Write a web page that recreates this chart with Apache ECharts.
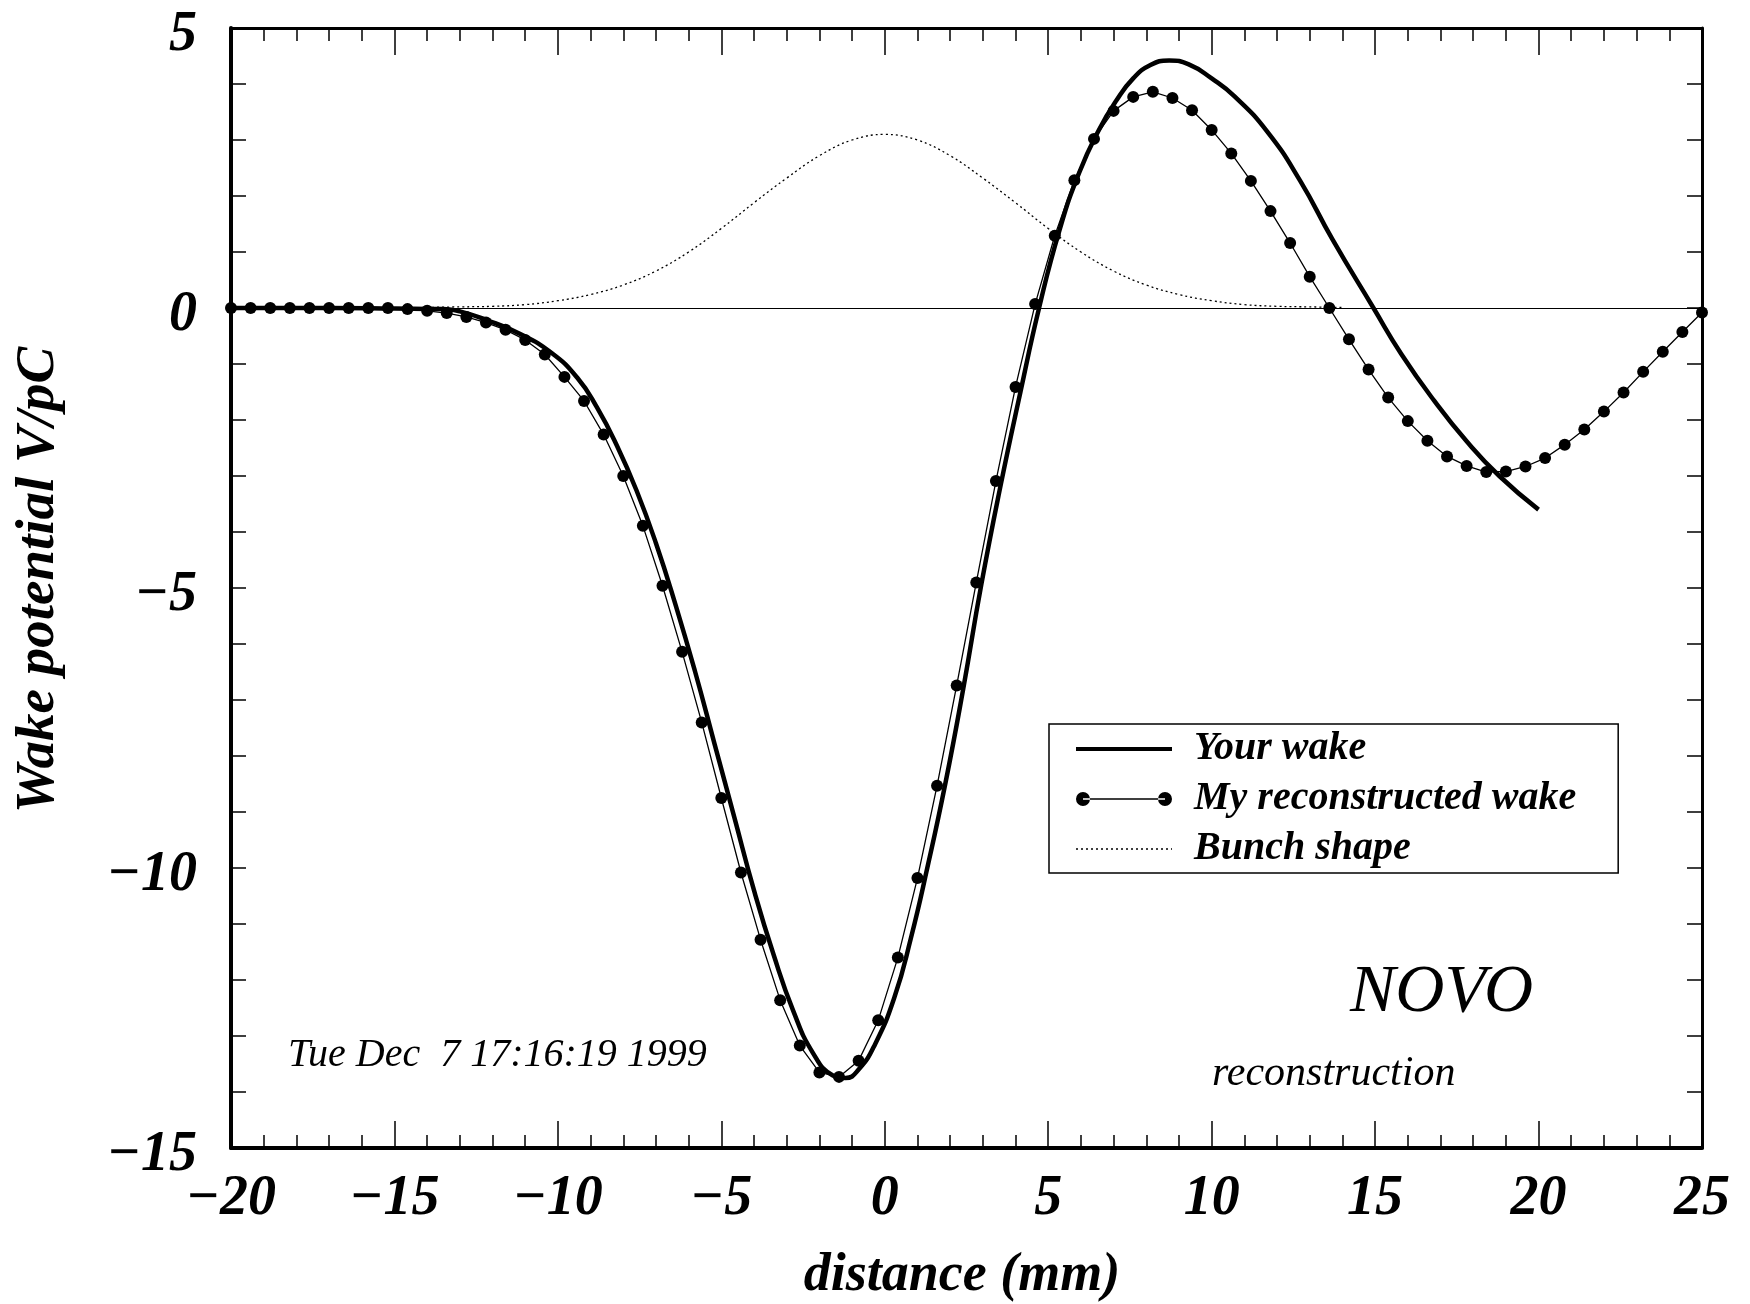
<!DOCTYPE html>
<html><head><meta charset="utf-8">
<script src="https://cdn.jsdelivr.net/npm/echarts@6/dist/echarts.min.js"></script>
<style>html,body{margin:0;padding:0;background:#fff}#c{width:1750px;height:1304px}</style>
</head><body><div id="c"></div>
<script>
// ---- data ----
const wakeX = [-20, -17, -15, -13.5, -13, -12.2, -11.2, -10.2, -9.4, -8.8, -8.2, -7.6, -7.0, -6.4, -5.8, -5.2, -4.6, -4.0, -3.4, -2.8, -2.2, -1.6, -1.2, -0.8, -0.3, 0.3, 0.8, 1.3, 1.85, 2.4, 2.95, 3.55, 4.15, 4.72, 5.35, 5.95, 6.55, 7.1, 7.6, 8.1, 8.7, 9.3, 10.0, 10.7, 11.7, 12.7, 13.7, 14.95, 15.8, 16.8, 17.8, 18.8, 20.0];
const wakeY = [0, 0, -0.01, -0.02, -0.06, -0.21, -0.45, -0.8, -1.25, -1.78, -2.45, -3.25, -4.2, -5.3, -6.5, -7.8, -9.1, -10.4, -11.55, -12.55, -13.3, -13.7, -13.75, -13.6, -13.15, -12.3, -11.25, -10.0, -8.5, -6.8, -4.95, -3.15, -1.5, 0.0, 1.4, 2.42, 3.18, 3.72, 4.1, 4.33, 4.42, 4.35, 4.1, 3.78, 3.15, 2.28, 1.22, 0.0, -0.82, -1.65, -2.38, -3.0, -3.6];

const recX = [-20, -19.4, -18.8, -18.2, -17.6, -17, -16.4, -15.8, -15.2, -14.6, -14, -13.4, -12.8, -12.2, -11.6, -11, -10.4, -9.8, -9.2, -8.6, -8, -7.4, -6.8, -6.2, -5.6, -5, -4.4, -3.8, -3.2, -2.6, -2, -1.4, -0.8, -0.2, 0.4, 1, 1.6, 2.2, 2.8, 3.4, 4, 4.6, 5.2, 5.8, 6.4, 7, 7.6, 8.2, 8.8, 9.4, 10, 10.6, 11.2, 11.8, 12.4, 13, 13.6, 14.2, 14.8, 15.4, 16, 16.6, 17.2, 17.8, 18.4, 19, 19.6, 20.2, 20.8, 21.4, 22, 22.6, 23.2, 23.8, 24.4, 25];
const recY = [0, 0, 0, 0, 0, 0, 0, 0, 0, -0.02, -0.05, -0.09, -0.16, -0.26, -0.39, -0.57, -0.83, -1.23, -1.66, -2.26, -3.0, -3.89, -4.96, -6.14, -7.40, -8.75, -10.08, -11.28, -12.36, -13.17, -13.65, -13.73, -13.44, -12.72, -11.6, -10.18, -8.53, -6.74, -4.90, -3.09, -1.41, 0.07, 1.29, 2.28, 3.02, 3.52, 3.77, 3.86, 3.75, 3.53, 3.18, 2.76, 2.27, 1.73, 1.16, 0.56, 0, -0.56, -1.10, -1.60, -2.02, -2.37, -2.65, -2.82, -2.93, -2.92, -2.83, -2.68, -2.44, -2.17, -1.85, -1.51, -1.14, -0.78, -0.43, -0.08];

const bunchX = [-14, -13, -12, -11, -10, -9, -8, -7, -6, -5, -4, -3, -2, -1, 0, 1, 2, 3, 4, 5, 6, 7, 8, 9, 10, 11, 12, 13, 14];
const bunchY = [0.01, 0.02, 0.03, 0.06, 0.13, 0.24, 0.41, 0.66, 1.0, 1.42, 1.88, 2.32, 2.72, 3.0, 3.1, 3.0, 2.72, 2.32, 1.88, 1.42, 1.0, 0.66, 0.41, 0.24, 0.13, 0.06, 0.03, 0.02, 0.01];

const xTickValues = [-20, -15, -10, -5, 0, 5, 10, 15, 20, 25];
const xTickLabels = ['\u221220', '\u221215', '\u221210', '\u22125', '0', '5', '10', '15', '20', '25'];
const yTickValues = [-15, -10, -5, 0, 5];
const yTickLabels = ['\u221215', '\u221210', '\u22125', '0', '5'];

const seriesNames = ['Your wake', 'My reconstructed wake', 'Bunch shape'];
const xTitle = 'distance (mm)';
const yTitle = 'Wake potential V/pC';
const dateText = 'Tue Dec  7 17:16:19 1999';
const novoText = 'NOVO';
const recoText = 'reconstruction';

// ---- build ----
const FONT = '"Liberation Serif", "Times New Roman", serif';
const zip = (xs, ys) => xs.map((x, i) => [x, ys[i]]);
const lab = (vals, labels) => v => { const i = vals.indexOf(v); return i >= 0 ? labels[i] : ''; };

const chart = echarts.init(document.getElementById('c'), null, { renderer: 'canvas' });

const xBase = {
  type: 'value', min: -20, max: 25, interval: 5,
  splitLine: { show: false },
  axisLine: { show: true, onZero: false, lineStyle: { color: '#000', width: 3 } },
  axisTick: { show: true, inside: true, length: 27, lineStyle: { color: '#000', width: 1.5 } },
  minorTick: { show: true, splitNumber: 5, length: 13, lineStyle: { color: '#000', width: 1.5 } }
};
const yBase = {
  type: 'value', min: -15, max: 5, interval: 5,
  splitLine: { show: false },
  axisLine: { show: true, onZero: false, lineStyle: { color: '#000', width: 3 } },
  axisTick: { show: true, inside: true, length: 15, lineStyle: { color: '#000', width: 1.5 } },
  minorTick: { show: true, splitNumber: 5, length: 15, lineStyle: { color: '#000', width: 1.5 } }
};

const recIcon = 'path://M0,7 A7,7 0 1,0 14,7 A7,7 0 1,0 0,7 Z M7,6.2 L89,6.2 L89,7.8 L7,7.8 Z M82,7 A7,7 0 1,0 96,7 A7,7 0 1,0 82,7 Z';
const labelFont = { fontFamily: FONT, fontStyle: 'italic', fontWeight: 'bold', fontSize: 56, color: '#000' };

chart.setOption({
  animation: false,
  backgroundColor: '#fff',
  grid: { left: 231, right: 48, top: 28, bottom: 156, containLabel: false },
  xAxis: [
    Object.assign({}, xBase, {
      position: 'bottom',
      axisLine: { show: true, onZero: false, lineStyle: { color: '#000', width: 4 } },
      axisLabel: Object.assign({ show: true, margin: 24, formatter: lab(xTickValues, xTickLabels) }, labelFont)
    }),
    Object.assign({}, xBase, { position: 'top', axisLabel: { show: false } })
  ],
  yAxis: [
    Object.assign({}, yBase, {
      position: 'left',
      axisLine: { show: true, onZero: false, lineStyle: { color: '#000', width: 4 } },
      axisLabel: Object.assign({ show: true, margin: 34,
        formatter: v => '{a|' + lab(yTickValues, yTickLabels)(v) + '}',
        rich: { a: Object.assign({ padding: [16, 0, 0, 0] }, labelFont) } }, labelFont)
    }),
    Object.assign({}, yBase, { position: 'right', axisLabel: { show: false } })
  ],
  legend: {
    orient: 'vertical', left: 1049, top: 724,
    padding: [5, 42, 4, 25],
    borderColor: '#000', borderWidth: 1.5,
    itemWidth: 96, itemHeight: 14, itemGap: 10,
    selectedMode: false,
    textStyle: { fontFamily: FONT, fontStyle: 'italic', fontWeight: 'bold', fontSize: 40, color: '#000', lineHeight: 40, padding: [0, 0, 0, 17] },
    data: [
      { name: seriesNames[0], itemStyle: { opacity: 0 }, lineStyle: { width: 4, color: '#000' } },
      { name: seriesNames[1], icon: recIcon, itemStyle: { color: '#000', borderWidth: 0 } },
      { name: seriesNames[2], itemStyle: { opacity: 0 }, lineStyle: { width: 1.3, color: '#000', type: [2, 3] } }
    ]
  },
  series: [
    {
      name: seriesNames[2], type: 'line', data: zip(bunchX, bunchY),
      xAxisIndex: 0, yAxisIndex: 0, smooth: 0.4, symbol: 'none',
      color: '#000', itemStyle: { color: '#000' },
      lineStyle: { color: '#000', width: 1.3, type: [2, 3] },
      markLine: {
        silent: true, symbol: 'none', label: { show: false },
        lineStyle: { color: '#000', width: 1.2, type: 'solid' },
        data: [{ yAxis: 0 }]
      },
      z: 2
    },
    {
      name: seriesNames[0], type: 'line', data: zip(wakeX, wakeY),
      xAxisIndex: 0, yAxisIndex: 0, smooth: 0.5, symbol: 'none',
      color: '#000', itemStyle: { color: '#000' },
      lineStyle: { color: '#000', width: 4.5 }, z: 3
    },
    {
      name: seriesNames[1], type: 'line', data: zip(recX, recY),
      xAxisIndex: 0, yAxisIndex: 0, smooth: false, symbol: 'circle', symbolSize: 12, showAllSymbol: true,
      color: '#000', itemStyle: { color: '#000', borderWidth: 0 },
      lineStyle: { color: '#000', width: 1.3 }, z: 4
    }
  ],
  graphic: [
    { type: 'text', x: 962, y: 1276, z: 10,
      style: { text: xTitle, align: 'center', verticalAlign: 'middle', fill: '#000',
        font: 'italic bold 54px ' + FONT } },
    { type: 'text', x: 39, y: 580, rotation: Math.PI / 2, z: 10,
      style: { text: yTitle, align: 'center', verticalAlign: 'middle', fill: '#000',
        font: 'italic bold 55px ' + FONT } },
    { type: 'text', x: 288, y: 1055, z: 10,
      style: { text: dateText, align: 'left', verticalAlign: 'middle', fill: '#000',
        font: 'italic 40px ' + FONT } },
    { type: 'text', x: 1350, y: 993, z: 10,
      style: { text: novoText, align: 'left', verticalAlign: 'middle', fill: '#000',
        font: 'italic 68px ' + FONT } },
    { type: 'text', x: 1212, y: 1074, z: 10,
      style: { text: recoText, align: 'left', verticalAlign: 'middle', fill: '#000',
        font: 'italic 42px ' + FONT } }
  ]
});
</script>
</body></html>
